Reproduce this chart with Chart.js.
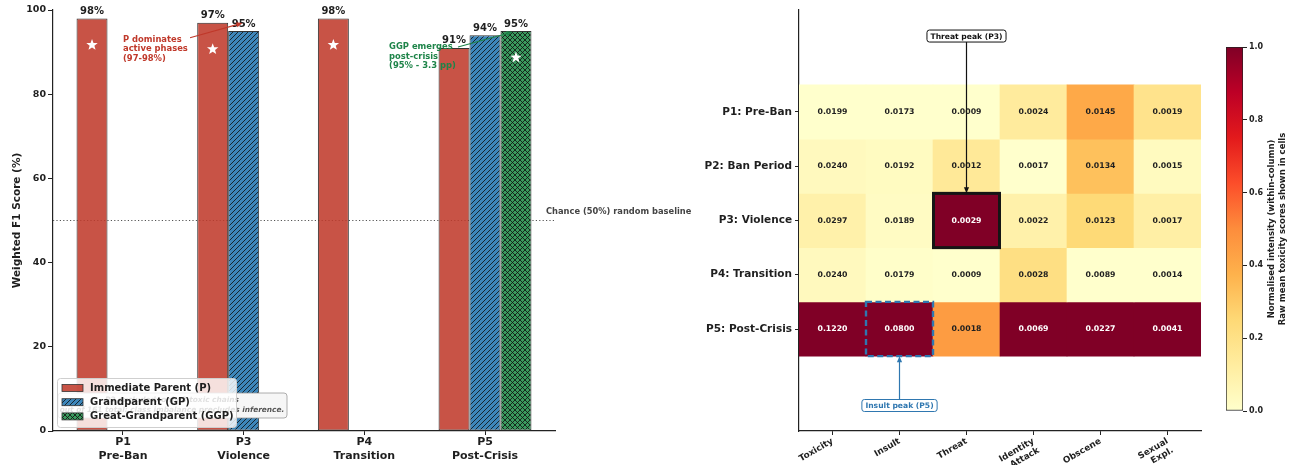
<!DOCTYPE html>
<html>
<head>
<meta charset="utf-8">
<script src="https://cdn.jsdelivr.net/npm/chart.js@4.4.1/dist/chart.umd.min.js"></script>
<style>
  html, body { margin: 0; padding: 0; background: #fff; width: 1289px; height: 465px; overflow: hidden; }
  canvas { position: absolute; top: 0; }
  #bars { left: 0; }
  #heat { left: 640px; }
  #cbar { left: 1210px; }
</style>
</head>
<body>
<canvas id="bars" width="700" height="465"></canvas>
<canvas id="heat" width="570" height="465"></canvas>
<canvas id="cbar" width="79" height="465"></canvas>
<script>
// ---- Weighted F1 by ancestor depth, per phase ----
const phases = ['P1', 'P3', 'P4', 'P5'];
const phaseNames = ['Pre-Ban', 'Violence', 'Transition', 'Post-Crisis'];
const f1Parent = [98, 97, 98, 91];
const f1Grandparent = [0, 95, 0, 94];
const f1GreatGrandparent = [0, 0, 0, 95];
const seriesNames = ['Immediate Parent (P)', 'Grandparent (GP)', 'Great-Grandparent (GGP)'];
const f1Ticks = [0, 20, 40, 60, 80, 100];
const chanceLevel = 50;

// ---- Mean toxicity scores per phase (rows) and attribute (columns) ----
const heatRows = ['P1: Pre-Ban', 'P2: Ban Period', 'P3: Violence', 'P4: Transition', 'P5: Post-Crisis'];
const heatCols = ['Toxicity', 'Insult', 'Threat', ['Identity', 'Attack'], 'Obscene', ['Sexual', 'Expl.']];
const rowP1 = [0.0199, 0.0173, 0.0009, 0.0024, 0.0145, 0.0019];
const rowP2 = [0.0240, 0.0192, 0.0012, 0.0017, 0.0134, 0.0015];
const rowP3 = [0.0297, 0.0189, 0.0029, 0.0022, 0.0123, 0.0017];
const rowP4 = [0.0240, 0.0179, 0.0009, 0.0028, 0.0089, 0.0014];
const rowP5 = [0.1220, 0.0800, 0.0018, 0.0069, 0.0227, 0.0041];
const colorbarTicks = [0, 0.2, 0.4, 0.6, 0.8, 1.0];

const FONT = "'DejaVu Sans', sans-serif";
const INK = '#1f1f1f';

// YlOrRd colour map
const YLORRD = ['#ffffcc', '#ffeda0', '#fed976', '#feb24c', '#fd8d3c', '#fc4e2a', '#e31a1c', '#bd0026', '#800026'];
function hexRgb(h) { return [1, 3, 5].map(k => parseInt(h.slice(k, k + 2), 16)); }
function ylOrRd(t) {
  t = Math.max(0, Math.min(1, t));
  const p = t * (YLORRD.length - 1);
  const i = Math.min(Math.floor(p), YLORRD.length - 2);
  const f = p - i;
  const a = hexRgb(YLORRD[i]), b = hexRgb(YLORRD[i + 1]);
  const c = a.map((v, k) => Math.round(v + (b[k] - v) * f));
  return `rgb(${c[0]},${c[1]},${c[2]})`;
}

// Hatched fills for the bar series
function hatch(ctx, base, cross, step) {
  const c = document.createElement('canvas');
  c.width = c.height = step;
  const g = c.getContext('2d');
  g.fillStyle = base;
  g.fillRect(0, 0, step, step);
  g.strokeStyle = 'rgba(15,15,15,0.9)';
  g.lineWidth = 0.9;
  for (const o of [-step, 0, step]) {
    g.beginPath(); g.moveTo(o, step); g.lineTo(o + step, 0); g.stroke();
    if (cross) { g.beginPath(); g.moveTo(o, 0); g.lineTo(o + step, step); g.stroke(); }
  }
  return ctx.createPattern(c, 'repeat');
}

function arrow(ctx, x0, y0, x1, y1, color, lw) {
  const ang = Math.atan2(y1 - y0, x1 - x0);
  const hl = 6, hw = 2.6;
  ctx.save();
  ctx.strokeStyle = color; ctx.fillStyle = color; ctx.lineWidth = lw;
  ctx.beginPath(); ctx.moveTo(x0, y0);
  ctx.lineTo(x1 - Math.cos(ang) * hl * 0.8, y1 - Math.sin(ang) * hl * 0.8); ctx.stroke();
  ctx.beginPath();
  ctx.moveTo(x1, y1);
  ctx.lineTo(x1 - Math.cos(ang) * hl - Math.sin(ang) * hw, y1 - Math.sin(ang) * hl + Math.cos(ang) * hw);
  ctx.lineTo(x1 - Math.cos(ang) * hl + Math.sin(ang) * hw, y1 - Math.sin(ang) * hl - Math.cos(ang) * hw);
  ctx.closePath(); ctx.fill();
  ctx.restore();
}

function roundRect(ctx, x, y, w, h, r) {
  ctx.beginPath();
  ctx.moveTo(x + r, y);
  ctx.arcTo(x + w, y, x + w, y + h, r);
  ctx.arcTo(x + w, y + h, x, y + h, r);
  ctx.arcTo(x, y + h, x, y, r);
  ctx.arcTo(x, y, x + w, y, r);
  ctx.closePath();
}

function star(ctx, cx, cy, ro, ri) {
  ctx.beginPath();
  for (let k = 0; k < 10; k++) {
    const r = k % 2 ? ri : ro;
    const a = -Math.PI / 2 + k * Math.PI / 5;
    const x = cx + r * Math.cos(a), y = cy + r * Math.sin(a);
    k ? ctx.lineTo(x, y) : ctx.moveTo(x, y);
  }
  ctx.closePath();
  ctx.fillStyle = '#ffffff';
  ctx.fill();
}

// ================= Left panel: grouped bars =================
const barCtx = document.getElementById('bars').getContext('2d');
const RED = 'rgba(192,57,43,0.87)';
const bluePattern = hatch(barCtx, '#3d86ba', false, 5);
const greenPattern = hatch(barCtx, '#3a9a5e', true, 5);
const barFills = [RED, bluePattern, greenPattern];
const barSeries = [f1Parent, f1Grandparent, f1GreatGrandparent];
const toPoints = vals => vals.map((v, i) => ({ x: i, y: v }));

const barOverlay = {
  id: 'barOverlay',
  beforeDatasetsDraw(chart) {
    const { ctx, chartArea } = chart;
    const y = chart.scales.y.getPixelForValue(chanceLevel);
    ctx.save();
    ctx.strokeStyle = '#555'; ctx.lineWidth = 1; ctx.setLineDash([1.2, 2.2]);
    ctx.beginPath(); ctx.moveTo(chartArea.left, y); ctx.lineTo(chartArea.right, y); ctx.stroke();
    ctx.restore();
  },
  afterDatasetsDraw(chart) {
    const { ctx, chartArea } = chart;
    const xs = chart.scales.x, ys = chart.scales.y;
    ctx.save();
    // value labels
    ctx.font = `bold 10px ${FONT}`; ctx.fillStyle = INK; ctx.textAlign = 'center'; ctx.textBaseline = 'bottom';
    barSeries.forEach((vals, d) => {
      const meta = chart.getDatasetMeta(d);
      vals.forEach((v, i) => { if (v > 0) ctx.fillText(v + '%', meta.data[i].x, meta.data[i].y - 2); });
    });
    // star on the best ancestor in each phase
    phases.forEach((_, i) => {
      const vals = barSeries.map(s => s[i]);
      const w = vals.indexOf(Math.max(...vals));
      const el = chart.getDatasetMeta(w).data[i];
      star(ctx, el.x, ys.getPixelForValue(vals[w] - 6.3), 6, 2.5);
    });
    // chance text
    ctx.font = `bold 8.3px ${FONT}`; ctx.fillStyle = '#444'; ctx.textAlign = 'left'; ctx.textBaseline = 'middle';
    ctx.fillText('Chance (50%) random baseline', chartArea.right - 9, ys.getPixelForValue(chanceLevel) - 9);

    // annotation: P dominates
    const redTxt = '#c0392b';
    arrow(ctx, 190, ys.getPixelForValue(93.4), xs.getPixelForValue(0.99), ys.getPixelForValue(96.9), redTxt, 1.1);
    ctx.font = `bold 8.4px ${FONT}`; ctx.fillStyle = redTxt;
    ['P dominates', 'active phases', '(97-98%)'].forEach((t, k) => ctx.fillText(t, xs.getPixelForValue(0.0), ys.getPixelForValue(92.9) + k * 9.3));
    // annotation: GGP emerges
    const greenTxt = '#1e8449';
    ctx.fillStyle = greenTxt;
    ['GGP emerges', 'post-crisis', '(95% - 3.3 pp)'].forEach((t, k) => ctx.fillText(t, xs.getPixelForValue(2.205), ys.getPixelForValue(91.2) + k * 9.3));
    arrow(ctx, 458, ys.getPixelForValue(91.2), xs.getPixelForValue(3.23), ys.getPixelForValue(94.8), greenTxt, 1.1);

    // note box (partly behind the legend)
    ctx.fillStyle = '#f6f6f6'; ctx.strokeStyle = '#9a9a9a'; ctx.lineWidth = 0.8;
    roundRect(ctx, 58, 393, 229, 25, 3); ctx.fill(); ctx.stroke();
    ctx.font = `italic bold 7.4px ${FONT}`; ctx.fillStyle = '#555'; ctx.textAlign = 'center';
    ctx.fillText('P2 excluded: only 8 toxic chains', 172, 400);
    ctx.fillText('out of 161 total: class imbalance precludes inference.', 172, 410);

    // legend
    ctx.fillStyle = 'rgba(255,255,255,0.82)'; ctx.strokeStyle = '#cfcfcf'; ctx.lineWidth = 1;
    roundRect(ctx, 57.5, 378.5, 179, 49, 3); ctx.fill(); ctx.stroke();
    ctx.font = `bold 10px ${FONT}`; ctx.textAlign = 'left'; ctx.textBaseline = 'middle';
    seriesNames.forEach((name, k) => {
      const cy = 388 + k * 14.2;
      ctx.fillStyle = barFills[k]; ctx.fillRect(62, cy - 3.5, 21, 7);
      ctx.strokeStyle = '#333'; ctx.lineWidth = 0.8; ctx.strokeRect(62, cy - 3.5, 21, 7);
      ctx.fillStyle = INK; ctx.fillText(name, 90, cy + 0.5);
    });
    ctx.restore();
  }
};

new Chart(barCtx, {
  type: 'bar',
  data: {
    datasets: barSeries.map((vals, d) => ({
      label: seriesNames[d],
      data: toPoints(vals),
      backgroundColor: barFills[d],
      borderColor: '#333',
      borderWidth: 1,
      borderSkipped: false
    }))
  },
  options: {
    responsive: false, animation: false,
    layout: { padding: { left: 10, top: 10, right: 145, bottom: 0 } },
    datasets: { bar: { categoryPercentage: 0.77, barPercentage: 1.0 } },
    scales: {
      x: {
        type: 'linear', min: -0.58, max: 3.58, offset: false,
        afterBuildTicks: s => { s.ticks = phases.map((_, i) => ({ value: i })); },
        afterFit: s => { s.height = 34; },
        ticks: { callback: v => [phases[v], phaseNames[v]], font: { family: FONT, size: 11, weight: 'bold' }, color: INK, padding: 1, maxRotation: 0, autoSkip: false },
        grid: { offset: false, drawOnChartArea: false, tickLength: 4, color: '#222', tickWidth: 1 },
        border: { color: '#222', width: 1.2 }
      },
      y: {
        min: 0, max: 100,
        afterBuildTicks: s => { s.ticks = f1Ticks.map(v => ({ value: v })); },
        afterFit: s => { s.width = 43; },
        title: { display: true, text: 'Weighted F1 Score (%)', font: { family: FONT, size: 10.5, weight: 'bold' }, color: INK, padding: { top: 1, bottom: 0 } },
        ticks: { font: { family: FONT, size: 9.5, weight: 'bold' }, color: INK, padding: 2 },
        grid: { drawOnChartArea: false, tickLength: 5, color: '#222' },
        border: { color: '#222', width: 1.2 }
      }
    },
    plugins: { legend: { display: false }, tooltip: { enabled: false } }
  },
  plugins: [barOverlay]
});

// ================= Right panel: heatmap =================
const heatData = [rowP1, rowP2, rowP3, rowP4, rowP5];
const colMin = heatCols.map((_, j) => Math.min(...heatData.map(r => r[j])));
const colMax = heatCols.map((_, j) => Math.max(...heatData.map(r => r[j])));
const norm = heatData.map(r => r.map((v, j) => (v - colMin[j]) / (colMax[j] - colMin[j])));
const peakRow = j => heatData.map(r => r[j]).indexOf(colMax[j]);

const heatOverlay = {
  id: 'heatOverlay',
  afterDatasetsDraw(chart) {
    const { ctx } = chart;
    const ys = chart.scales.y;
    const cell = (r, j) => {
      const el = chart.getDatasetMeta(r).data[j];
      const top = Math.min(el.y, el.base), bot = Math.max(el.y, el.base);
      return { x0: el.x - el.width / 2, x1: el.x + el.width / 2, top, bot, cx: el.x, cy: (top + bot) / 2 };
    };
    ctx.save();
    ctx.font = `bold 7.8px ${FONT}`; ctx.textAlign = 'center'; ctx.textBaseline = 'middle';
    heatData.forEach((row, r) => row.forEach((v, j) => {
      const c = cell(r, j);
      ctx.fillStyle = norm[r][j] > 0.6 ? '#ffffff' : INK;
      ctx.fillText(v.toFixed(4), c.cx, c.cy);
    }));

    // Threat peak
    const tj = 2, tr = peakRow(tj);
    const tc = cell(tr, tj);
    ctx.strokeStyle = '#151515'; ctx.lineWidth = 3;
    ctx.strokeRect(tc.x0 + 0.5, tc.top, tc.x1 - tc.x0 - 1, tc.bot - tc.top);
    // Insult peak
    const ij = 1, ir = peakRow(ij);
    const ic = cell(ir, ij);
    ctx.strokeStyle = '#2f77b0'; ctx.lineWidth = 2.4; ctx.setLineDash([6, 3.5]);
    ctx.strokeRect(ic.x0, ic.top, ic.x1 - ic.x0, ic.bot - ic.top);
    ctx.setLineDash([]);

    const label = (text, cx, cy, color) => {
      ctx.font = `bold 7.6px ${FONT}`;
      const w = ctx.measureText(text).width + 7, h = 12;
      ctx.fillStyle = '#fff'; ctx.strokeStyle = color; ctx.lineWidth = 1;
      roundRect(ctx, cx - w / 2, cy - h / 2, w, h, 2.5); ctx.fill(); ctx.stroke();
      ctx.fillStyle = color; ctx.fillText(text, cx, cy + 0.5);
      return h / 2;
    };
    const ty = ys.getPixelForValue(-1.40);
    const th = label('Threat peak (P3)', tc.cx, ty, '#111');
    arrow(ctx, tc.cx, ty + th, tc.cx, tc.top, '#111', 1.2);
    const iy = ys.getPixelForValue(5.41);
    const ih = label('Insult peak (P5)', ic.cx, iy, '#2f77b0');
    arrow(ctx, ic.cx, iy - ih, ic.cx, ic.bot, '#2f77b0', 1.2);
    ctx.restore();
  }
};

new Chart(document.getElementById('heat').getContext('2d'), {
  type: 'bar',
  data: {
    labels: heatCols,
    datasets: heatData.map((row, r) => ({
      label: heatRows[r],
      data: row.map(() => [r - 0.5, r + 0.5]),
      backgroundColor: row.map((_, j) => ylOrRd(norm[r][j])),
      borderWidth: 0,
      grouped: false,
      categoryPercentage: 1,
      barPercentage: 1
    }))
  },
  options: {
    responsive: false, animation: false,
    layout: { padding: { left: 0, top: 10, right: 9, bottom: 0 } },
    scales: {
      x: {
        afterFit: s => { s.height = 34; },
        ticks: { font: { family: FONT, size: 8.8, weight: 'bold' }, color: INK, minRotation: 30, maxRotation: 30, padding: 1, autoSkip: false },
        grid: { offset: false, drawOnChartArea: false, tickLength: 4, color: '#222' },
        border: { color: '#222', width: 1.2 }
      },
      y: {
        type: 'linear', reverse: true, min: -1.88, max: 5.88,
        afterBuildTicks: s => { s.ticks = heatRows.map((_, i) => ({ value: i })); },
        afterFit: s => { s.width = 159; },
        ticks: { callback: v => heatRows[v], font: { family: FONT, size: 10.5, weight: 'bold' }, color: INK, padding: 3 },
        grid: { drawOnChartArea: false, tickLength: 4, color: '#222' },
        border: { color: '#222', width: 1.2 }
      }
    },
    plugins: { legend: { display: false }, tooltip: { enabled: false } }
  },
  plugins: [heatOverlay]
});

// ================= Colour bar =================
const cbarLabel = {
  id: 'cbarLabel',
  afterDraw(chart) {
    const { ctx, chartArea } = chart;
    ctx.save();
    ctx.font = `bold 8.5px ${FONT}`; ctx.fillStyle = INK; ctx.textAlign = 'center'; ctx.textBaseline = 'middle';
    ctx.translate(67, (chartArea.top + chartArea.bottom) / 2);
    ctx.rotate(-Math.PI / 2);
    ctx.fillText('Normalised intensity (within-column)', 0, -5);
    ctx.fillText('Raw mean toxicity scores shown in cells', 0, 5.5);
    ctx.restore();
  }
};

new Chart(document.getElementById('cbar').getContext('2d'), {
  type: 'bar',
  data: {
    labels: [''],
    datasets: [{
      data: [[colorbarTicks[0], colorbarTicks[colorbarTicks.length - 1]]],
      backgroundColor: c => {
        const { ctx, chartArea } = c.chart;
        if (!chartArea) return '#ffffcc';
        const g = ctx.createLinearGradient(0, chartArea.bottom, 0, chartArea.top);
        YLORRD.forEach((col, k) => g.addColorStop(k / (YLORRD.length - 1), col));
        return g;
      },
      borderColor: '#222', borderWidth: 1, borderSkipped: false,
      categoryPercentage: 1, barPercentage: 1
    }]
  },
  options: {
    responsive: false, animation: false,
    layout: { padding: { left: 16, top: 47, right: 0, bottom: 54 } },
    scales: {
      x: { display: false },
      y: {
        position: 'right', min: 0, max: 1,
        afterBuildTicks: s => { s.ticks = colorbarTicks.map(v => ({ value: v })); },
        afterFit: s => { s.width = 46; },
        ticks: { callback: v => v.toFixed(1), font: { family: FONT, size: 8, weight: 'bold' }, color: INK, padding: 2 },
        grid: { drawOnChartArea: false, tickLength: 4, color: '#222' },
        border: { display: false }
      }
    },
    plugins: { legend: { display: false }, tooltip: { enabled: false } }
  },
  plugins: [cbarLabel]
});
</script>
</body>
</html>
